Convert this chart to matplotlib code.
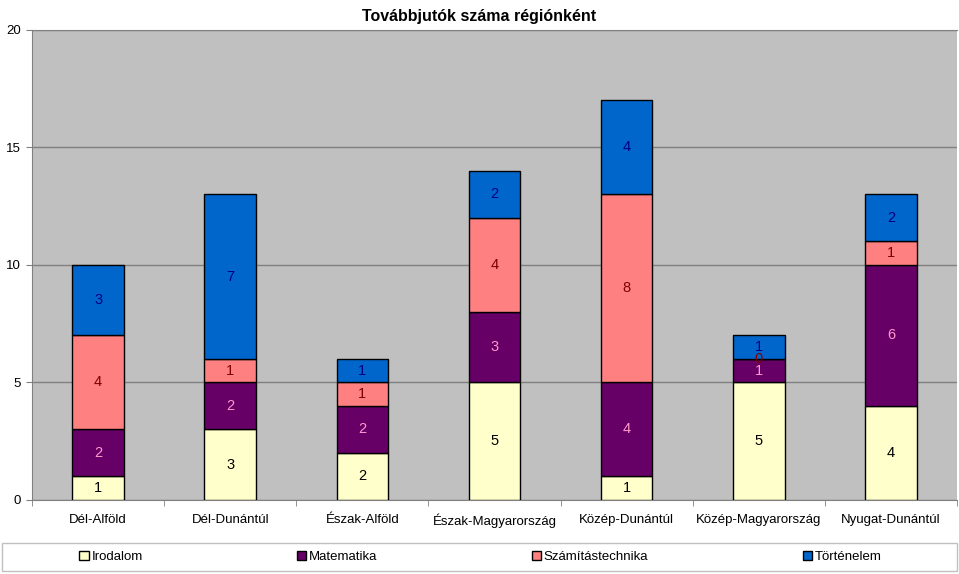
import numpy as np
import matplotlib.pyplot as plt
from matplotlib.patches import Rectangle

plt.rcParams['font.family'] = ['Liberation Sans', 'DejaVu Sans']

regions = ['Dél-Alföld', 'Dél-Dunántúl', 'Észak-Alföld', 'Észak-Magyarország',
           'Közép-Dunántúl', 'Közép-Magyarország', 'Nyugat-Dunántúl']
irodalom = [1, 3, 2, 5, 1, 5, 4]
matematika = [2, 2, 2, 3, 4, 1, 6]
szamitastechnika = [4, 1, 1, 4, 8, 0, 1]
tortenelem = [3, 7, 1, 2, 4, 1, 2]

series = [
    ('Irodalom', irodalom, '#FFFFCC', 'black'),
    ('Matematika', matematika, '#660066', '#FF99CC'),
    ('Számítástechnika', szamitastechnika, '#FF8080', '#800000'),
    ('Történelem', tortenelem, '#0066CC', '#000080'),
]

fig = plt.figure(figsize=(9.59, 5.74), dpi=100)
ax = fig.add_axes([0.0334, 0.129, 0.9646, 0.819])
ax.set_facecolor('#C0C0C0')

x = np.arange(len(regions))
bottom = np.zeros(len(regions))
handles = []
for name, vals, color, tcolor in series:
    vals = np.array(vals, dtype=float)
    bars = ax.bar(x, vals, 0.39, bottom=bottom, color=color, edgecolor='black',
                  linewidth=1, label=name, zorder=3)
    handles.append(bars)
    for xi, b, v in zip(x, bottom, vals):
        ax.text(xi, b + v / 2, f'{int(v)}', ha='center', va='center',
                fontsize=10.5, color=tcolor, zorder=4)
    bottom += vals

ax.set_xlim(-0.5, len(regions) - 0.5)
ax.set_ylim(0, 20)
ax.set_yticks([0, 5, 10, 15, 20])
ax.yaxis.grid(True, color='#808080', linewidth=1, zorder=1)
ax.set_xticks(x)
ax.set_xticklabels(regions)
ax.set_xticks(np.arange(-0.5, len(regions), 1), minor=True)
ax.tick_params(axis='x', which='major', length=0, pad=10, labelsize=9.5)
ax.tick_params(axis='x', which='minor', length=4, color='#808080')
ax.tick_params(axis='y', length=4, color='#808080', labelsize=9.5, pad=4)
for s in ['top', 'left']:
    ax.spines[s].set_color('#808080')
ax.spines['right'].set_visible(False)
ax.spines['bottom'].set_color('#808080')

fig.text(0.5, 0.985, 'Továbbjutók száma régiónként', ha='center', va='top',
         fontsize=11.5, fontweight='bold')

# legend box along the bottom
x0, y0, w, h = 2 / 959, 3 / 574, 955 / 959, 28 / 574
fig.patches.append(Rectangle((x0, y0), w, h, transform=fig.transFigure,
                             fill=False, edgecolor='#C0C0C0', linewidth=1))
centres = [111, 337, 590, 842]
for hd, cx, (name, _, _, _) in zip(handles, centres, series):
    fig.legend([hd], [name], loc='center',
               bbox_to_anchor=(cx / 959, y0 + h / 2),
               frameon=False, fontsize=9.5, handlelength=0.7, handleheight=0.7,
               handletextpad=0.2, borderaxespad=0, borderpad=0)

fig.savefig('out.png', dpi=100)
